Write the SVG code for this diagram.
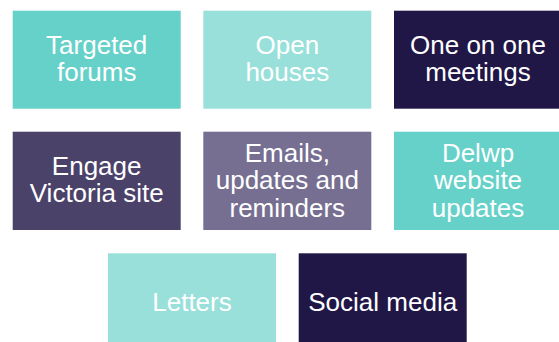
<svg xmlns="http://www.w3.org/2000/svg" width="559" height="342" viewBox="0 0 559 342">
<style>
.t{font-family:"Liberation Sans",Arial,sans-serif;font-size:26px;fill:#ffffff;text-anchor:middle}
.c1{fill:#66D1C9}.c2{fill:#99E0DB}.c3{fill:#201747}.c4{fill:#4B426A}.c5{fill:#776F91}
</style>
<rect width="559" height="342" fill="#ffffff"/>
<g id="n1"><rect class="c1" x="12.7" y="10.7" width="168" height="98"/><text class="t" x="96.7"><tspan x="96.7" y="54">Targeted</tspan><tspan x="96.7" y="81">forums</tspan></text></g>
<g id="n2"><rect class="c2" x="203.3" y="10.7" width="168" height="98"/><text class="t"><tspan x="287.3" y="54">Open</tspan><tspan x="287.3" y="81">houses</tspan></text></g>
<g id="n3"><rect class="c3" x="394" y="10.7" width="168" height="98"/><text class="t"><tspan x="478" y="54">One on one</tspan><tspan x="478" y="81">meetings</tspan></text></g>
<g id="n4"><rect class="c4" x="12.7" y="131.7" width="168" height="98.3"/><text class="t"><tspan x="96.7" y="175">Engage</tspan><tspan x="96.7" y="201.7">Victoria site</tspan></text></g>
<g id="n5"><rect class="c5" x="203.3" y="131.7" width="168" height="98.3"/><text class="t"><tspan x="287.3" y="161.7">Emails,</tspan><tspan x="287.3" y="189.3">updates and</tspan><tspan x="287.3" y="216.7">reminders</tspan></text></g>
<g id="n6"><rect class="c1" x="394" y="131.7" width="168" height="98.3"/><text class="t"><tspan x="478" y="161.7">Delwp</tspan><tspan x="478" y="189.3">website</tspan><tspan x="478" y="216.7">updates</tspan></text></g>
<g id="n7"><rect class="c2" x="108" y="253.3" width="168" height="98"/><text class="t" x="192" y="311">Letters</text></g>
<g id="n8"><rect class="c3" x="298.7" y="253.3" width="168" height="98"/><text class="t" x="382.7" y="311">Social media</text></g>
<g id="connectors"></g>
</svg>
